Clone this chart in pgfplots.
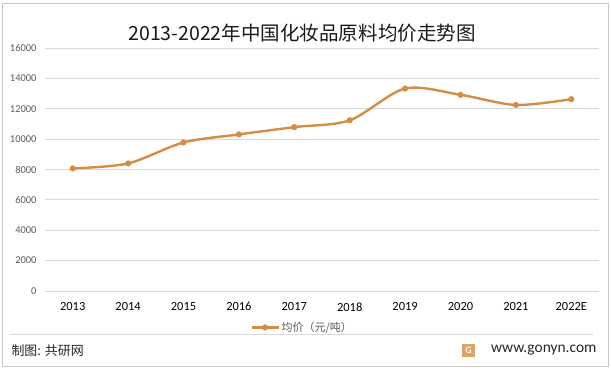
\documentclass[border=0pt]{standalone}
\usepackage{fontspec}
\usepackage{pgfplots}
\pgfplotsset{compat=1.18}
\setmainfont{Carlito}
\newfontfamily\cjk{Noto Sans CJK SC}
\definecolor{lineorange}{RGB}{214,139,70}
\definecolor{gridgray}{RGB}{217,217,217}
\definecolor{ticklab}{RGB}{89,89,89}
\definecolor{bordergray}{RGB}{200,200,200}
\begin{document}
\begin{tikzpicture}[x=1bp,y=1bp]
\path[use as bounding box] (0,0) rectangle (611,371);
\draw[bordergray,line width=0.8bp] (2,5) rectangle (608,368);
\draw[gridgray,line width=0.8bp] (10,37) -- (593,37);
\node[anchor=center,font=\cjk\fontsize{19.6}{21}\selectfont,text=black!90] at (302,338) {2013-2022年中国化妆品原料均价走势图};
\node[anchor=west,font=\cjk\fontsize{13}{14}\selectfont,text=black!85] at (8,20) {制图: 共研网};
\node[anchor=east,font=\fontsize{15.5}{17}\selectfont,text=black!85] at (600,21) {www.gonyn.com};
\fill[lineorange!80] (462,14) rectangle (475,27);
\node[font=\bfseries\fontsize{10}{10}\selectfont,text=white] at (468.5,20.5) {G};
\begin{axis}[
  at={(45bp,80bp)}, anchor=south west,
  scale only axis, width=554bp, height=243bp,
  xmin=-0.5, xmax=9.5, ymin=0, ymax=16000,
  xtick={0,...,9},
  xticklabels={2013,2014,2015,2016,2017,2018,2019,2020,2021,2022E},
  ytick={0,2000,...,16000},
  ymajorgrids, grid style={gridgray,line width=0.8bp},
  axis line style={draw=none},
  major tick length=0pt,
  /pgf/number format/assume math mode=true,
  /pgf/number format/1000 sep={},
  scaled y ticks=false,
  yticklabel style={font=\fontsize{10.5}{12}\selectfont,text=ticklab,xshift=-5bp},
  xticklabel style={font=\fontsize{12.5}{14}\selectfont,text=black,yshift=-8bp},
  legend style={at={(0.464,-0.15)},anchor=center,draw=none,fill=none,
    font=\cjk\fontsize{11}{12}\selectfont,text=ticklab},
  legend image code/.code={\draw[#1,mark=none] (0bp,0bp) -- (27bp,0bp); \draw[#1] plot coordinates {(13.5bp,0bp)};},
]
\addplot[lineorange,line width=2.4bp,smooth,tension=0.5,mark=*,mark size=2.8bp,mark options={fill=lineorange,draw=lineorange,line width=0.5bp}]
  coordinates {(0,8070) (1,8400) (2,9780) (3,10310) (4,10790) (5,11240) (6,13330) (7,12920) (8,12250) (9,12630)};
\addlegendentry{均价（元/吨）}
\end{axis}
\end{tikzpicture}
\end{document}
